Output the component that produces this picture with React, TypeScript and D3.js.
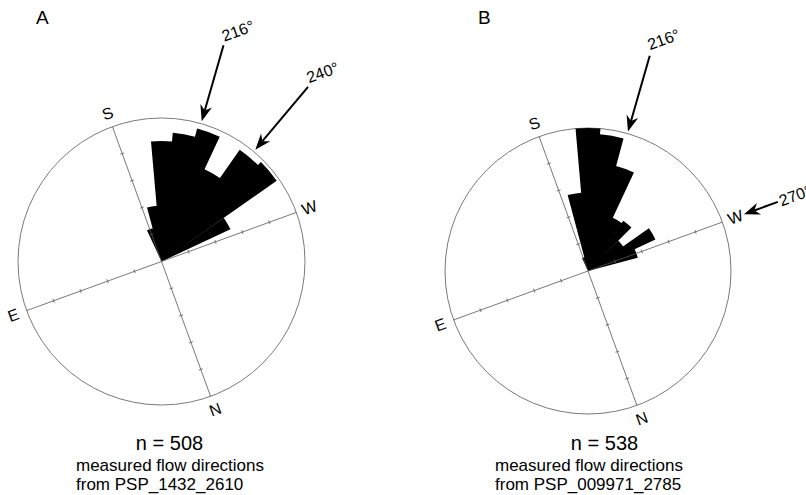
import React from "react";
import * as d3 from "d3";

const WIDTH = 806;
const HEIGHT = 495;

// Rose diagrams of measured flow directions (compass bearings, 10° bins)
const binStartsA = [175, 185, 195, 205, 215, 225, 235, 245, 255];
const valuesA = [12, 19.5, 42, 45, 48, 35.5, 47.5, 49, 26.5];

const binStartsB = [175, 185, 195, 205, 215, 225, 235, 245, 255, 265];
const valuesB = [5, 27.5, 50, 48, 38, 20.5, 21.5, 15, 26, 18];

// Dominant directions marked with arrows
const arrowsA = [216, 240];
const arrowsB = [216, 270];

const compassLabels = ["N", "E", "S", "W"];
const compassAngles = [0, 90, 180, 270];
const axisTickValues = [10, 20, 30, 40];

const BIN_WIDTH = 10;
const VALUE_MAX = 50;
// The diagrams are drawn with north turned toward the bottom of the page
const ROTATION = 160;

const FONT = "Arial, 'Liberation Sans', Helvetica, sans-serif";

type ArrowLayout = { tip: number; tail: number; lx: number; ly: number };

type Panel = {
  letter: string;
  cx: number;
  cy: number;
  R: number;
  starts: number[];
  values: number[];
  arrows: number[];
  arrowLayout: ArrowLayout[];
  nText: string;
  source: string;
  nX: number;
  textX: number;
  letterX: number;
};

const panels: Panel[] = [
  {
    letter: "A",
    cx: 161.5,
    cy: 261.5,
    R: 143.5,
    starts: binStartsA,
    values: valuesA,
    arrows: arrowsA,
    arrowLayout: [
      { tip: 146, tail: 225, lx: 2, ly: -3 },
      { tip: 146, tail: 228, lx: 2, ly: -3 },
    ],
    nText: "n = 508",
    source: "from PSP_1432_2610",
    nX: 169.5,
    textX: 76,
    letterX: 36,
  },
  {
    letter: "B",
    cx: 588,
    cy: 271,
    R: 143,
    starts: binStartsB,
    values: valuesB,
    arrows: arrowsB,
    arrowLayout: [
      { tip: 145, tail: 224, lx: 2, ly: -5 },
      { tip: 166, tail: 202, lx: 2, ly: 5.5 },
    ],
    nText: "n = 538",
    source: "from PSP_009971_2785",
    nX: 604.5,
    textX: 495,
    letterX: 478,
  },
];

const rad = (deg: number) => (deg * Math.PI) / 180;
const screenBearing = (compass: number) => compass + ROTATION;

function RoseDiagram({ p }: { p: Panel }) {
  const r = d3.scaleLinear().domain([0, VALUE_MAX]).range([0, p.R]);
  const pt = (bearingDeg: number, radius: number): [number, number] => [
    p.cx + radius * Math.sin(rad(bearingDeg)),
    p.cy - radius * Math.cos(rad(bearingDeg)),
  ];

  const arc = d3.arc<{ s: number; v: number }>()
    .innerRadius(0)
    .outerRadius((d) => r(d.v))
    .startAngle((d) => rad(screenBearing(d.s)))
    .endAngle((d) => rad(screenBearing(d.s + BIN_WIDTH)));

  // all petals joined into one path so adjacent wedges fill without seams
  const petalPath = p.starts.map((s, i) => arc({ s, v: p.values[i] }) || "").join("");
  const labelRot = ROTATION - 180;

  return (
    <g>
      {/* outer ring */}
      <circle cx={p.cx} cy={p.cy} r={p.R} fill="none" stroke="#7a7a7a" strokeWidth={1} />

      {/* petals */}
      <path transform={`translate(${p.cx},${p.cy})`} d={petalPath} fill="#000" />

      {/* N–S and E–W axes with value ticks */}
      {[0, 90].map((a) => {
        const b = screenBearing(a);
        const [x1, y1] = pt(b, p.R);
        const [x2, y2] = pt(b + 180, p.R);
        return <line key={a} x1={x1} y1={y1} x2={x2} y2={y2} stroke="#555" strokeWidth={0.8} />;
      })}
      {compassAngles.map((a) =>
        axisTickValues.map((v) => {
          const b = screenBearing(a);
          const [x, y] = pt(b, r(v));
          const px = Math.cos(rad(b)) * 2;
          const py = Math.sin(rad(b)) * 2;
          return (
            <line
              key={`${a}-${v}`}
              x1={x - px}
              y1={y - py}
              x2={x + px}
              y2={y + py}
              stroke="#555"
              strokeWidth={0.8}
            />
          );
        })
      )}

      {/* compass letters */}
      {compassLabels.map((lab, i) => {
        const b = screenBearing(compassAngles[i]);
        const [x, y] = pt(b, p.R + 14);
        return (
          <text
            key={lab}
            x={x}
            y={y}
            transform={`rotate(${labelRot},${x},${y})`}
            textAnchor="middle"
            dominantBaseline="central"
            fontFamily={FONT}
            fontSize={16}
            fill="#000"
          >
            {lab}
          </text>
        );
      })}

      {/* direction arrows */}
      {p.arrows.map((dir, i) => {
        const lay = p.arrowLayout[i];
        const b = rad(screenBearing(dir));
        const ux = -Math.sin(b);
        const uy = Math.cos(b);
        const px = Math.cos(b);
        const py = Math.sin(b);
        const [tx, ty] = pt(screenBearing(dir), lay.tip);
        const [sx, sy] = pt(screenBearing(dir), lay.tail);
        const headLen = 16;
        const notch = 11;
        const half = 6;
        const head = [
          [tx, ty],
          [tx - headLen * ux + half * px, ty - headLen * uy + half * py],
          [tx - notch * ux, ty - notch * uy],
          [tx - headLen * ux - half * px, ty - headLen * uy - half * py],
        ];
        return (
          <g key={dir}>
            <line
              x1={sx}
              y1={sy}
              x2={tx - notch * ux}
              y2={ty - notch * uy}
              stroke="#000"
              strokeWidth={2}
            />
            <path d={`M${head.map((q) => q.join(",")).join("L")}Z`} fill="#000" />
            <text
              transform={`translate(${sx},${sy}) rotate(${labelRot})`}
              x={lay.lx}
              y={lay.ly}
              fontFamily={FONT}
              fontSize={16}
              fill="#000"
            >
              {`${dir}°`}
            </text>
          </g>
        );
      })}

      {/* panel letter and caption */}
      <text x={p.letterX} y={24} fontFamily={FONT} fontSize={19} fill="#000">
        {p.letter}
      </text>
      <text x={p.nX} y={450} textAnchor="middle" fontFamily={FONT} fontSize={20} fill="#000">
        {p.nText}
      </text>
      <text x={p.textX} y={471} fontFamily={FONT} fontSize={17} fill="#000">
        measured flow directions
      </text>
      <text x={p.textX} y={489.5} fontFamily={FONT} fontSize={17} fill="#000">
        {p.source}
      </text>
    </g>
  );
}

export default function App() {
  return (
    <svg
      width={WIDTH}
      height={HEIGHT}
      viewBox={`0 0 ${WIDTH} ${HEIGHT}`}
      style={{ position: "absolute", left: 0, top: 0, background: "#fff" }}
    >
      <rect width={WIDTH} height={HEIGHT} fill="#fff" />
      {panels.map((p) => (
        <RoseDiagram key={p.letter} p={p} />
      ))}
    </svg>
  );
}
